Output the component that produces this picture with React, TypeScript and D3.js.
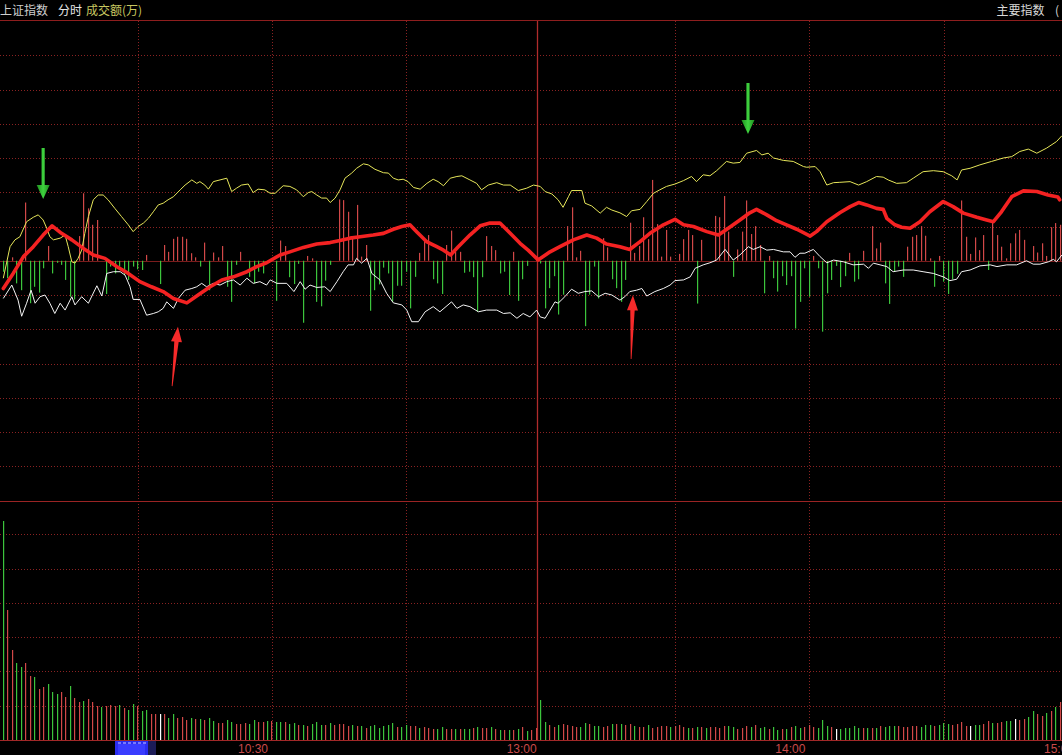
import React from "react";
import * as d3 from "d3";

// ---------- data ----------
const headerLeft = ["上证指数", "分时"];
const headerIndicator = "成交额(万)";
const headerRight = "主要指数";

const timeTickMinutes = [60, 120, 180, 240];
const timeTickLabels = ["10:30", "13:00", "14:00", "15:00"];
const gridMinutes = [30, 60, 90, 150, 180, 210];
const lunchMinute = 119.2;
const mainGridValues = [-6, -5, -4, -3, -2, -1, 1, 2, 3, 4, 5, 6];
const volGridValues = [1, 2, 3, 4, 5, 6].map((k) => k * 34.3);

// yellow line [minute, value]
const yellowPts: [number, number][] = [
  [0, -0.51], [1.5, 0.41], [2.6, 0.61], [3.7, 0.7], [5.2, 1.14], [6.7, 1.27], [7.8, 1.34], [8.9, 1.19], [9.7, 0.95], [10.4, 0.7],
  [11.2, 0.61], [12.7, 0.66], [13.8, 0.75], [14.5, 0.41], [15.3, -0.03], [16.0, -0.07], [16.7, 0.07], [17.5, 0.31], [18.2, 0.8], [19.0, 1.29],
  [20.1, 1.78], [21.2, 1.92], [22.3, 1.92], [23.4, 1.78], [24.9, 1.53], [26.4, 1.29], [27.9, 1.05], [29.0, 0.85], [30.1, 1.0], [31.3, 1.1],
  [32.4, 1.24], [33.5, 1.43], [34.6, 1.63], [35.7, 1.68], [36.8, 1.78], [38.0, 1.87], [39.5, 2.07], [40.6, 2.21], [42.1, 2.36], [43.2, 2.26],
  [43.9, 2.31], [45.0, 2.21], [45.8, 2.09], [46.9, 2.31], [48.4, 2.36], [49.9, 2.41], [51.0, 2.02], [52.1, 2.12], [53.2, 2.21], [54.7, 2.24],
  [55.8, 1.99], [56.9, 2.09], [58.4, 2.07], [59.6, 1.97], [60.7, 1.97], [62.5, 2.19], [64.0, 2.17], [65.5, 2.07], [67.0, 1.87], [68.1, 1.99],
  [68.9, 2.02], [70.0, 1.92], [71.1, 1.83], [72.2, 1.83], [73.0, 1.7], [74.1, 1.83], [75.2, 2.07], [76.3, 2.41], [77.8, 2.56], [78.9, 2.7],
  [80.4, 2.83], [81.5, 2.8], [83.0, 2.67], [84.9, 2.57], [86.0, 2.56], [87.1, 2.41], [88.2, 2.36], [89.3, 2.38], [90.4, 2.31], [91.6, 2.14],
  [93.1, 2.09], [94.6, 2.26], [96.0, 2.38], [97.1, 2.31], [98.3, 2.19], [99.8, 2.41], [101.3, 2.46], [102.4, 2.48], [104.2, 2.36], [105.7, 2.26],
  [106.8, 2.07], [108.3, 2.21], [110.2, 2.28], [111.7, 2.21], [113.2, 2.21], [115.0, 2.05], [116.9, 2.12], [118.4, 2.21], [119.9, 2.17], [121.0, 2.02],
  [122.5, 1.95], [123.9, 1.78], [125.0, 1.56], [126.2, 1.87], [126.9, 2.05], [129.2, 2.05], [129.9, 1.68], [131.4, 1.6], [133.3, 1.39], [134.7, 1.56],
  [135.9, 1.48], [137.7, 1.4], [139.2, 1.29], [140.3, 1.46], [142.2, 1.5], [143.7, 1.73], [145.2, 1.97], [146.6, 2.07], [148.1, 2.17], [150.0, 2.24],
  [151.9, 2.34], [153.7, 2.46], [154.8, 2.31], [156.3, 2.51], [157.8, 2.48], [159.3, 2.63], [161.5, 2.9], [163.0, 2.85], [164.5, 2.87], [166.0, 3.14],
  [168.2, 3.22], [169.4, 3.09], [170.8, 3.14], [172.0, 3.0], [174.2, 2.93], [176.4, 2.9], [178.7, 2.75], [179.4, 2.73], [181.3, 2.75], [182.4, 2.6],
  [183.9, 2.21], [185.4, 2.28], [186.8, 2.29], [189.1, 2.31], [191.0, 2.21], [192.8, 2.31], [195.0, 2.46], [196.5, 2.44], [197.6, 2.36], [199.5, 2.26],
  [201.7, 2.28], [203.2, 2.41], [205.4, 2.6], [207.7, 2.63], [209.9, 2.6], [211.8, 2.48], [213.0, 2.36], [214.0, 2.65], [215.9, 2.7], [218.1, 2.8],
  [220.7, 2.9], [223.3, 3.0], [225.2, 3.04], [227.0, 3.19], [228.9, 3.26], [230.8, 3.14], [233.0, 3.29], [235.2, 3.48], [236.4, 3.65],
];

// white line [minute, value]
const whitePts: [number, number][] = [
  [0, -1.1], [1.9, -0.71], [3.3, -1.15], [4.1, -1.62], [5.2, -1.24], [6.2, -0.86], [7.1, -1.24], [8.2, -1.05], [9.3, -1.0], [10.4, -1.24],
  [11.5, -1.54], [12.7, -1.24], [13.8, -1.44], [15.3, -1.05], [16.0, -1.29], [17.5, -1.05], [19.0, -1.24], [20.9, -0.73], [22.0, -1.03], [23.1, -0.37],
  [24.6, -0.32], [26.1, -0.32], [27.2, -0.42], [28.3, -0.76], [29.0, -1.13], [30.5, -1.13], [32.0, -1.59], [33.5, -1.54], [34.6, -1.49], [35.7, -1.39],
  [36.5, -1.2], [38.0, -1.39], [39.1, -1.1], [40.6, -0.86], [42.1, -0.81], [43.2, -0.76], [44.3, -0.66], [45.4, -0.76], [46.9, -0.66], [48.4, -0.71],
  [49.9, -0.61], [51.4, -0.56], [52.9, -0.71], [54.4, -0.51], [55.8, -0.66], [57.3, -0.61], [58.8, -0.71], [59.6, -0.56], [61.1, -0.66], [63.3, -0.66],
  [64.9, -0.9], [66.3, -0.61], [67.4, -0.83], [68.5, -0.71], [70.0, -0.78], [71.8, -0.76], [73.0, -0.9], [74.5, -0.61], [75.9, -0.32], [77.0, -0.12],
  [78.2, -0.12], [78.9, 0.07], [80.0, -0.07], [81.2, 0.07], [82.3, -0.37], [84.1, -0.56], [85.6, -0.95], [87.1, -1.23], [89.0, -1.29], [90.1, -1.44],
  [91.2, -1.78], [92.7, -1.78], [94.2, -1.49], [96.0, -1.34], [97.5, -1.49], [100.1, -1.2], [101.3, -1.39], [102.7, -1.29], [104.2, -1.34], [106.1, -1.49],
  [107.9, -1.44], [110.2, -1.44], [111.7, -1.54], [113.2, -1.52], [114.7, -1.68], [116.1, -1.54], [117.6, -1.64], [119.1, -1.44], [119.9, -1.64], [121.0, -1.68],
  [122.1, -1.44], [123.2, -1.2], [123.9, -1.24], [125.4, -1.05], [126.9, -0.83], [128.4, -0.95], [129.9, -0.9], [131.4, -0.88], [132.9, -1.05], [134.4, -0.95],
  [135.9, -1.0], [137.7, -1.15], [138.8, -1.05], [139.9, -0.9], [141.4, -0.86], [142.6, -0.81], [143.7, -1.03], [145.5, -0.9], [147.4, -0.81], [148.9, -0.71],
  [150.0, -0.58], [151.9, -0.56], [153.4, -0.47], [154.5, -0.22], [156.3, -0.12], [157.8, -0.06], [159.3, 0.02], [161.2, 0.33], [163.0, 0.02], [164.5, 0.17],
  [165.6, 0.31], [166.4, 0.41], [167.5, 0.33], [169.0, 0.41], [170.5, 0.31], [172.0, 0.33], [174.2, 0.26], [175.7, 0.26], [176.8, 0.1], [177.9, 0.22],
  [179.0, 0.22], [180.9, 0.33], [182.4, 0.12], [183.9, -0.06], [185.4, 0.02], [187.6, -0.03], [189.8, -0.12], [192.1, -0.1], [193.2, -0.22], [194.3, -0.07],
  [195.8, -0.12], [197.3, -0.17], [198.7, -0.32], [201.0, -0.27], [203.2, -0.27], [205.4, -0.32], [207.7, -0.37], [209.9, -0.47], [211.4, -0.58], [212.9, -0.54],
  [214.0, -0.32], [215.9, -0.27], [218.1, -0.15], [220.4, -0.12], [221.9, -0.17], [224.1, -0.12], [226.3, -0.12], [228.5, 0.0], [230.0, -0.1], [231.5, -0.1],
  [233.4, -0.03], [234.5, 0.04], [235.2, -0.03], [236.4, 0.17],
];

// thick red line [minute, value]
const redPts: [number, number][] = [
  [0, -0.81], [2.2, -0.37], [4.5, 0.12], [6.7, 0.41], [8.9, 0.75], [10.9, 1.02], [13.0, 0.8], [15.3, 0.61], [17.9, 0.36], [20.1, 0.17],
  [22.7, 0.07], [25.3, -0.17], [27.9, -0.37], [30.5, -0.61], [33.1, -0.76], [35.7, -0.9], [38.0, -1.1], [41.0, -1.23], [43.5, -1.0], [46.2, -0.76],
  [48.8, -0.56], [51.4, -0.47], [54.4, -0.32], [56.6, -0.17], [58.8, -0.06], [61.8, 0.17], [64.0, 0.26], [67.0, 0.39], [70.0, 0.49], [73.0, 0.53],
  [75.2, 0.59], [77.4, 0.66], [79.7, 0.7], [82.6, 0.75], [84.9, 0.8], [87.1, 0.92], [89.0, 1.0], [90.8, 1.05], [92.3, 0.85], [94.5, 0.56],
  [96.8, 0.41], [98.3, 0.31], [99.9, 0.17], [101.6, 0.41], [104.2, 0.75], [106.5, 1.02], [108.7, 1.1], [110.9, 1.1], [113.2, 0.8], [115.4, 0.51],
  [117.2, 0.31], [119.1, 0.07], [119.4, 0.02], [122.1, 0.26], [124.3, 0.41], [127.3, 0.61], [130.3, 0.75], [132.5, 0.66], [134.7, 0.49], [137.7, 0.41],
  [139.9, 0.33], [142.2, 0.56], [144.4, 0.8], [147.4, 1.05], [150.0, 1.21], [151.9, 1.05], [154.1, 1.0], [157.1, 0.85], [159.7, 0.75], [161.9, 0.95],
  [164.5, 1.19], [166.7, 1.4], [168.2, 1.5], [170.5, 1.34], [172.7, 1.17], [174.9, 1.05], [177.2, 0.92], [180.2, 0.72], [181.6, 0.85], [183.9, 1.14],
  [186.8, 1.4], [189.1, 1.58], [191.0, 1.7], [192.8, 1.63], [195.0, 1.53], [196.5, 1.5], [197.3, 1.24], [199.1, 1.05], [200.6, 0.98], [202.5, 0.95],
  [204.7, 1.14], [206.9, 1.43], [209.9, 1.73], [212.1, 1.58], [214.4, 1.39], [217.4, 1.27], [219.6, 1.19], [221.1, 1.14], [222.9, 1.43], [225.2, 1.87],
  [227.8, 2.04], [230.8, 2.02], [233.3, 1.92], [235.5, 1.86], [235.9, 1.78],
];

// histogram [minute, value] (red up / green down)
const flow: [number, number][] = [
  [0, -0.32], [1, -0.51], [2, 0.1], [3, -0.66], [4, -0.86], [5, 1.7], [6, -1.24], [7, -0.76], [8, -0.93], [9, -0.22], [10, 0.43], [11, -0.37],
  [12, -0.06], [13, -0.12], [14, -0.56], [15, -1.05], [16, -1.13], [17, 0.72], [18, 1.97], [19, 1.53], [20, 1.05], [21, 1.19], [23, -0.97], [24, -0.17],
  [25, -0.37], [26, -0.17], [27, -0.42], [28, -0.56], [29, -0.17], [30, -0.25], [31, -0.27], [32, 0.17], [35, -0.68], [36, 0.46], [37, 0.26], [38, 0.64],
  [39, 0.7], [40, 0.7], [41, 0.64], [42, 0.22], [43, 0.1], [44, -0.17], [45, 0.53], [46, -0.86], [47, 0.24], [48, 0.1], [49, 0.43], [50, -0.76],
  [51, -1.2], [52, -0.12], [53, 0.26], [55, -0.47], [56, -0.66], [57, -0.32], [58, -0.37], [61, -1.17], [62, 0.59], [63, 0.43], [64, -0.48], [65, -0.68],
  [66, -0.09], [67, -1.81], [68, 0.14], [69, 0.07], [70, -1.2], [71, -1.33], [72, -0.58], [73, -0.12], [75, 1.79], [76, 1.77], [77, 1.43], [78, 0.7],
  [79, 1.63], [80, 0.12], [81, 0.46], [82, -1.46], [83, -0.86], [84, -0.69], [85, -0.2], [86, -0.37], [87, -1.2], [88, -0.73], [89, -0.73], [90, -0.32],
  [91, -1.39], [92, -0.47], [93, 0.23], [94, 0.63], [95, 0.75], [96, -0.54], [97, -0.66], [98, -0.97], [99, 0.46], [100, 0.88], [101, 0.26], [102, 0.26],
  [103, -0.35], [104, -0.32], [105, -0.48], [106, -1.49], [107, -0.48], [108, 0.72], [109, 0.43], [110, 0.31], [111, -0.37], [112, -0.32], [113, -1.0], [114, 0.26],
  [115, -1.17], [116, -0.54], [117, -0.15], [119, 0.12], [120, -0.08], [121, -1.39], [122, -0.8], [123, -0.45], [124, -1.57], [125, -0.99], [126, 1.01], [127, 1.56],
  [128, 0.1], [129, 0.29], [130, -1.91], [131, -0.99], [132, -0.17], [133, -1.1], [134, 0.66], [135, 0.39], [136, -0.54], [137, -0.8], [138, -1.2], [139, -0.56],
  [140, 1.11], [141, 0.23], [142, 0.43], [143, 1.27], [144, 0.63], [145, 2.36], [146, 1.07], [147, 0.12], [148, 0.9], [149, 0.12], [151, 0.2], [152, 0.63],
  [153, 0.9], [154, 0.75], [155, -1.25], [156, 0.61], [159, 1.31], [160, 1.27], [161, 1.89], [162, 0.85], [163, -0.47], [164, 0.33], [165, 0.85], [166, 1.76],
  [167, 0.78], [168, 1.01], [169, 0.46], [170, -0.95], [171, 0.14], [172, -0.51], [173, -0.9], [174, -0.45], [175, -0.71], [176, -0.45], [177, -1.98], [178, -1.2],
  [179, -0.22], [180, -1.05], [181, 0.14], [182, -0.22], [183, -2.07], [184, -0.95], [185, -0.56], [186, -0.15], [187, -0.77], [188, -0.45], [189, 0.23], [190, -0.61],
  [191, -0.54], [192, 0.29], [194, 1.01], [195, 0.36], [196, 0.53], [197, -0.66], [198, -1.26], [199, -0.32], [200, -0.17], [201, -0.47], [202, 0.41], [203, 0.7],
  [204, 0.75], [205, 1.01], [206, 0.73], [207, 0.07], [208, -0.76], [209, 0.14], [210, -0.61], [211, -0.97], [212, -0.54], [213, -0.38], [214, 1.76], [215, 0.7],
  [216, 0.2], [217, 0.68], [218, 0.31], [219, 0.75], [220, -0.27], [221, 1.14], [222, 0.75], [223, 0.41], [224, 0.07], [225, 0.51], [226, 0.8], [227, 0.9],
  [228, 0.61], [230, 0.43], [231, 0.24], [232, 0.51], [233, 0.14], [234, 0.98], [235, 1.1], [236, 1.05],
];

// per-minute volume (arbitrary units), minute 0 = 9:30
const volume: number[] = [
  219, 130, 90, 77, 73, 77, 64, 63, 51, 53, 56, 48, 46, 48, 43, 54, 42, 38, 39, 41,
  38, 34, 33, 34, 35, 34, 35, 32, 30, 36, 34, 29, 30, 26, 26, 26, 26, 22, 26, 22,
  23, 20, 22, 21, 21, 20, 22, 19, 17, 17, 20, 18, 16, 16, 17, 16, 20, 18, 18, 19,
  19, 18, 18, 18, 16, 17, 15, 15, 14, 16, 18, 15, 15, 17, 15, 16, 16, 14, 15, 14,
  14, 12, 14, 15, 12, 14, 15, 17, 13, 13, 15, 14, 14, 12, 13, 12, 11, 11, 13, 11,
  11, 11, 11, 11, 11, 12, 13, 12, 12, 13, 11, 10, 10, 10, 10, 11, 13, 9, 10, 12,
  40, 18, 15, 13, 15, 16, 15, 14, 13, 13, 17, 16, 14, 14, 13, 14, 16, 16, 16, 15,
  16, 14, 13, 13, 15, 12, 13, 14, 14, 13, 14, 15, 13, 12, 12, 13, 13, 12, 13, 13,
  12, 14, 14, 13, 11, 12, 14, 13, 15, 12, 13, 11, 13, 10, 11, 11, 13, 14, 12, 13,
  15, 13, 12, 20, 14, 13, 11, 11, 12, 12, 14, 12, 12, 12, 12, 12, 14, 13, 14, 14,
  14, 13, 13, 14, 14, 13, 15, 15, 14, 15, 17, 16, 15, 16, 18, 14, 14, 15, 15, 16,
  19, 17, 17, 18, 19, 19, 21, 20, 21, 23, 29, 26, 24, 27, 29, 33, 38,
];
// price direction per minute: R up, G down, W flat
const volumeDir: string[] = (
  "GRRGGRRGRR" + "GGGRRGRRGR" + "RRGRRRGRGG" + "RGGRRWRGGR" + "RRGRGRGGRR" + "GGRRRGGRRG" + "RGGRGGR" +
  "GRGGGRGRRRRGR" + "GRGGGGGGRG" + "GRRGRRRGGR" + "RGRGGRGRRG" + "RGRGRGRGRR" + "GGRRGRRRRG" +
  "GRGGRRGRGR" + "RGRRGRRRRG" + "RRRGRGRGRR" + "RRGGRRRGRG" + "GRGGRGRGGR" + "RRGGGRWGGG" +
  "GGRGRGRGGG" + "RRRRRGGGRG" + "GGRRRRWGGR" + "RGRRGGWRRG" + "GRRGRGR"
).split("");

// annotation arrows [minute, value] tail -> tip
const greenArrows = [
  { from: [8.9, 3.29], to: [8.9, 1.8] },
  { from: [166.3, 5.19], to: [166.3, 3.7] },
];
const redArrows = [
  { from: [37.7, -3.66], to: [39.0, -1.93] },
  { from: [140.2, -2.87], to: [140.6, -1.01] },
];

// ---------- layout ----------
const W = 1062;
const H = 755;
const mainTop = 21;
const mainBottom = 500.5;
const volBottom = 740;

const x = d3.scaleLinear().domain([0, 240]).range([3.3, 3.3 + 240 * 4.478]);
const yMain = d3.scaleLinear().domain([-7, 7]).range([mainBottom, mainTop]);
const yVol = d3.scaleLinear().domain([0, 240]).range([volBottom, volBottom - 240]);

const GRID = "#8a2222";
const RED_BAR = "#d24848";
const GREEN_BAR = "#3cc43c";

function arrowPolygon(
  x1: number, y1: number, x2: number, y2: number,
  st: number, sh: number, headLen: number, headHalf: number
) {
  const dx = x2 - x1, dy = y2 - y1;
  const L = Math.hypot(dx, dy);
  const ux = dx / L, uy = dy / L;
  const nx = -uy, ny = ux;
  const bx = x2 - ux * headLen, by = y2 - uy * headLen;
  const pts = [
    [x1 + nx * st, y1 + ny * st],
    [bx + nx * sh, by + ny * sh],
    [bx + nx * headHalf, by + ny * headHalf],
    [x2, y2],
    [bx - nx * headHalf, by - ny * headHalf],
    [bx - nx * sh, by - ny * sh],
    [x1 - nx * st, y1 - ny * st],
  ];
  return pts.map((p) => p.join(",")).join(" ");
}

export default function App() {
  const lineGen = d3
    .line<[number, number]>()
    .x((d) => x(d[0]))
    .y((d) => yMain(d[1]));

  const crisp = (v: number) => Math.round(v) + 0.5;
  const zeroY = yMain(0);

  return (
    <svg
      width={W}
      height={H}
      style={{ position: "absolute", left: 0, top: 0, display: "block", background: "#000" }}
    >
      <defs>
        <linearGradient id="gArrow" x1="0" y1="0" x2="1" y2="0">
          <stop offset="0" stopColor="#1f8f1f" />
          <stop offset="0.5" stopColor="#3fd33f" />
          <stop offset="1" stopColor="#1f8f1f" />
        </linearGradient>
      </defs>
      <rect x={0} y={0} width={W} height={H} fill="#000" />

      {/* header */}
      <text x={0} y={14.5} fill="#cfcfcf" fontSize={12} fontFamily="'Noto Sans CJK SC', sans-serif">
        {headerLeft[0]}
      </text>
      <text x={58} y={14.5} fill="#e6e6e6" fontSize={12} fontFamily="'Noto Sans CJK SC', sans-serif">
        {headerLeft[1]}
      </text>
      <text x={86} y={14.5} fill="#c8c860" fontSize={12} fontFamily="'Noto Sans CJK SC', sans-serif">
        {headerIndicator}
      </text>
      <text x={996.5} y={14.5} fill="#d8d8d8" fontSize={12} fontFamily="'Noto Sans CJK SC', sans-serif">
        {headerRight}
      </text>
      <text x={1055} y={14.5} fill="#d8d8d8" fontSize={12} fontFamily="'Noto Sans CJK SC', sans-serif">
        (
      </text>
      <line x1={0} x2={W} y1={20.5} y2={20.5} stroke="#8e1e1e" strokeWidth={1} />

      {/* main pane horizontal grid */}
      {mainGridValues.map((v) => (
        <line key={"mg" + v} x1={0} x2={W} y1={crisp(yMain(v))} y2={crisp(yMain(v))}
          stroke={GRID} strokeWidth={1} strokeDasharray="1,2" />
      ))}
      {/* volume pane horizontal grid */}
      {volGridValues.map((v, i) => (
        <line key={"vg" + i} x1={0} x2={W} y1={crisp(yVol(v))} y2={crisp(yVol(v))}
          stroke={GRID} strokeWidth={1} strokeDasharray="1,2" />
      ))}
      {/* vertical grid */}
      {gridMinutes.map((m) => (
        <line key={"vx" + m} x1={crisp(x(m))} x2={crisp(x(m))} y1={mainTop} y2={volBottom}
          stroke={GRID} strokeWidth={1} strokeDasharray="1,2" />
      ))}
      <line x1={crisp(x(lunchMinute))} x2={crisp(x(lunchMinute))} y1={mainTop} y2={volBottom}
        stroke="#b02c2c" strokeWidth={1.3} />

      {/* zero line and pane separators */}
      <line x1={0} x2={W} y1={crisp(zeroY)} y2={crisp(zeroY)} stroke="#7a1c1c" strokeWidth={1.2} />
      <line x1={0} x2={W} y1={crisp(mainBottom)} y2={crisp(mainBottom)} stroke="#9a2424" strokeWidth={1} />
      <line x1={0} x2={W} y1={crisp(volBottom)} y2={crisp(volBottom)} stroke="#a02828" strokeWidth={1.2} />

      {/* histogram */}
      {flow.map(([m, v]) => {
        const xx = Math.floor(x(m));
        const y0 = zeroY;
        const y1 = yMain(v);
        return (
          <rect key={"f" + m} x={xx} y={Math.min(y0, y1)} width={1.2} height={Math.abs(y1 - y0)}
            fill={v >= 0 ? RED_BAR : GREEN_BAR} />
        );
      })}

      {/* volume bars */}
      {volume.map((v, i) => {
        const c = volumeDir[i];
        const fill = c === "R" ? RED_BAR : c === "G" ? GREEN_BAR : "#ffffff";
        const top = yVol(v);
        return (
          <rect key={"v" + i} x={Math.floor(x(i))} y={top} width={1.2} height={volBottom - top} fill={fill} />
        );
      })}

      {/* lines */}
      <path d={lineGen(yellowPts) || ""} fill="none" stroke="#e6e65a" strokeWidth={1} />
      <path d={lineGen(whitePts) || ""} fill="none" stroke="#f4f4f4" strokeWidth={1} />
      <path d={lineGen(redPts) || ""} fill="none" stroke="#f42222" strokeWidth={3.6}
        strokeLinejoin="round" strokeLinecap="round" />

      {/* arrows */}
      {greenArrows.map((a, i) => (
        <polygon key={"ga" + i}
          points={arrowPolygon(x(a.from[0]), yMain(a.from[1]), x(a.to[0]), yMain(a.to[1]), 1.6, 1.6, 14, 6.5)}
          fill="url(#gArrow)" />
      ))}
      {redArrows.map((a, i) => (
        <polygon key={"ra" + i}
          points={arrowPolygon(x(a.from[0]), yMain(a.from[1]), x(a.to[0]), yMain(a.to[1]), 0.4, 2.2, 15, 5.5)}
          fill="#f62a2a" />
      ))}

      {/* cursor time box */}
      <rect x={115} y={741} width={33} height={14} fill="#2a2cf0" />
      <rect x={118} y={744} width={27} height={11} fill="#3a3cff" />
      <rect x={148} y={741} width={8} height={14} fill="#1c1c58" />
      <line x1={118} x2={146} y1={743} y2={743} stroke="#c8c8ff" strokeWidth={1} strokeDasharray="3,2" />

      {/* time labels */}
      {timeTickMinutes.map((m, i) => (
        <text key={"t" + m} x={x(m) - 19} y={753} textAnchor="middle" fill="#c94a4a"
          fontSize={12} fontFamily="'Liberation Sans', Arial, sans-serif">
          {timeTickLabels[i]}
        </text>
      ))}
    </svg>
  );
}
